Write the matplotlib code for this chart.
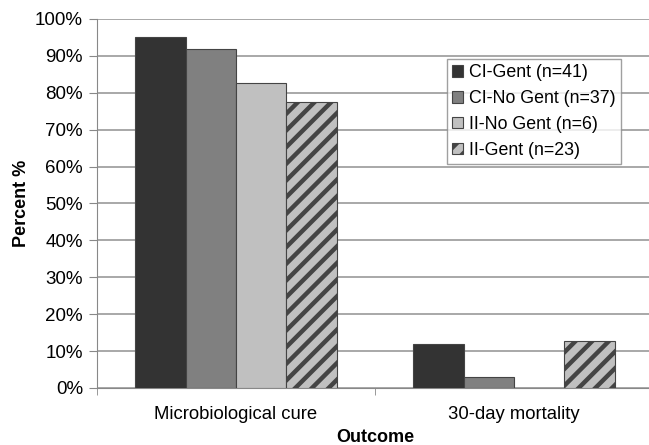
import numpy as np
import matplotlib.pyplot as plt

outcomes = ["Microbiological cure", "30-day mortality"]
groups = ["CI-Gent (n=41)", "CI-No Gent (n=37)", "II-No Gent (n=6)", "II-Gent (n=23)"]
cure = [95, 92, 82.7, 77.5]
mortality = [11.9, 3.1, 0, 12.8]

colors = ["#333333", "#808080", "#c0c0c0", "#c0c0c0"]
hatches = [None, None, None, "//"]


def main() -> None:
    plt.rcParams["font.family"] = ["Liberation Sans", "DejaVu Sans"]
    plt.rcParams["hatch.linewidth"] = 3.2
    plt.rcParams["hatch.color"] = "black"

    fig = plt.figure(figsize=(6.49, 4.45), dpi=100)
    ax = fig.add_axes([97 / 649, 1 - 388 / 445, 556 / 649, 369 / 445])

    x = np.arange(len(outcomes))
    width = 0.181
    values = np.array([cure, mortality]).T
    for i, name in enumerate(groups):
        offs = (i - 1.5) * width
        ax.bar(x + offs, values[i], width, color=colors[i], hatch=hatches[i],
               edgecolor="#444444", linewidth=0.8, label=name, zorder=3)

    ax.set_xlim(-0.5, 1.5)
    ax.set_ylim(0, 100)
    ax.set_yticks(np.arange(0, 101, 10))
    ax.set_yticklabels([f"{v}%" for v in range(0, 101, 10)], fontsize=13.5)
    ax.yaxis.grid(True, color="#999999", linewidth=1.2, zorder=0)

    ax.set_xticks(x)
    ax.set_xticklabels(outcomes, fontsize=13.3)
    ax.set_xticks([-0.5, 0.5, 1.5], minor=True)
    ax.tick_params(axis="x", which="major", length=0, pad=13)
    ax.tick_params(axis="x", which="minor", length=5, color="#888888")
    ax.tick_params(axis="y", length=6, color="#888888", pad=4)

    for s in ["top", "right"]:
        ax.spines[s].set_visible(False)
    for s in ["left", "bottom"]:
        ax.spines[s].set_color("#888888")

    ax.set_ylabel("Percent %", fontsize=13, fontweight="bold", labelpad=4)
    ax.set_xlabel("Outcome", fontsize=13, fontweight="bold", labelpad=4)

    leg = fig.legend(loc="upper left", bbox_to_anchor=(447 / 649, 1 - 59 / 445),
                     fontsize=12.8, frameon=True, fancybox=False,
                     handlelength=0.6, handleheight=0.6, handletextpad=0.35,
                     borderpad=0.3, labelspacing=0.5, borderaxespad=0)
    leg.get_frame().set_edgecolor("#888888")
    leg.get_frame().set_linewidth(1.0)

    fig.savefig("out.png", dpi=100)


if __name__ == "__main__":
    main()
